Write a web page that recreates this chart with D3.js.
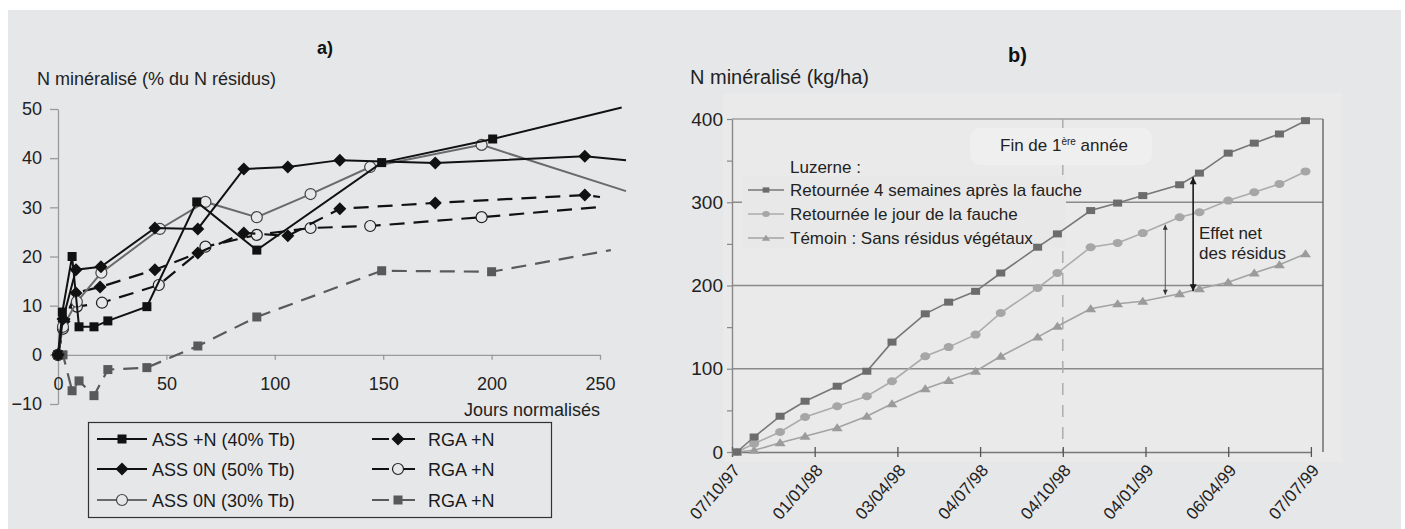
<!DOCTYPE html>
<html><head><meta charset="utf-8">
<script src="https://cdn.jsdelivr.net/npm/d3@7"></script>
<style>
body{margin:0;background:#fff}
text{font-family:Arial,"Liberation Sans",sans-serif}
</style>
</head><body>
<svg id="c" width="1405" height="529"></svg>
<script>
// ================= Panel a) data =================
const aXTicks = [0, 50, 100, 150, 200, 250];
const aYTicks = [-10, 0, 10, 20, 30, 40, 50];
const aLegend = ["ASS +N (40% Tb)", "ASS 0N (50% Tb)", "ASS 0N (30% Tb)", "RGA +N", "RGA +N", "RGA +N"];

const assN40_x = [0, 2, 6.5, 9.7, 16.6, 23, 41, 64, 91.7, 149.3, 200.5];
const assN40_y = [0, 8.7, 20, 5.7, 5.7, 6.9, 9.8, 31.1, 21.3, 39.1, 43.9];
const assN40_end = [260, 50.3];

const ass0N50_x = [0, 2.3, 8.3, 19.8, 44.7, 64.5, 85.7, 106, 130, 174, 243];
const ass0N50_y = [0, 7.3, 17.3, 17.9, 25.8, 25.6, 37.8, 38.2, 39.6, 39, 40.4];
const ass0N50_end = [262, 39.6];

const ass0N30_x = [0, 2.3, 8.7, 20, 47, 68, 91.7, 116.5, 144, 195.4];
const ass0N30_y = [0, 5.7, 10.8, 16.7, 25.6, 31.1, 28, 32.7, 38.2, 42.7];
const ass0N30_end = [262, 33.3];

const rgaDia_x = [0, 2.8, 8.3, 19.4, 44.7, 64.5, 85.7, 106, 130, 174, 243];
const rgaDia_y = [0, 6.8, 12.6, 13.8, 17.3, 20.7, 24.8, 24.2, 29.7, 30.9, 32.5];
const rgaDia_end = [250, 32.1];

const rgaCirc_x = [0, 2.3, 8.7, 20.3, 46.5, 68, 91.7, 116.5, 144, 195.4];
const rgaCirc_y = [0, 5.3, 9.8, 10.6, 14.2, 22, 24.4, 25.8, 26.2, 28];
const rgaCirc_end = [250.7, 30.1];

const rgaSq_x = [0, 2.3, 6.5, 9.7, 16.6, 23, 41, 64.5, 91.7, 149.3, 200];
const rgaSq_y = [0, 0, -7.3, -5.3, -8.3, -3.0, -2.6, 1.8, 7.7, 17.1, 16.9];
const rgaSq_end = [255, 21.3];

// ================= Panel b) data =================
const bTickDates = ["1997-10-07", "1998-01-01", "1998-04-03", "1998-07-04", "1998-10-04", "1999-01-04", "1999-04-06", "1999-07-07"];
const bTickLabels = ["07/10/97", "01/01/98", "03/04/98", "04/07/98", "04/10/98", "04/01/99", "06/04/99", "07/07/99"];
const bYTicks = [0, 50, 100, 150, 200, 250, 300, 350, 400];
const bDates = ["1997-10-12", "1997-10-30", "1997-11-26", "1997-12-22", "1998-01-26", "1998-02-28", "1998-03-28", "1998-05-04", "1998-05-30", "1998-06-29", "1998-07-27", "1998-09-06", "1998-09-28", "1998-11-04", "1998-12-04", "1999-01-01", "1999-02-11", "1999-03-05", "1999-04-06", "1999-05-05", "1999-06-02", "1999-07-01"];
const ret4sem = [0, 18, 43, 61, 79, 97, 132, 166, 180, 193, 215, 246, 262, 290, 299, 308, 321, 335, 359, 371, 382, 398];
const retJour = [0, 10, 24, 42, 55, 67, 85, 115, 126, 141, 167, 197, 215, 246, 251, 263, 282, 288, 302, 312, 322, 337];
const temoin = [0, 2, 11, 19, 29, 43, 58, 76, 86, 97, 115, 138, 151, 172, 178, 181, 190, 196, 204, 215, 225, 238];
const bLegend = ["Retournée 4 semaines après la fauche", "Retournée le jour de la fauche", "Témoin : Sans résidus végétaux"];
const finAnnee = "1998-10-04";
const arrowNet = {date: "1999-02-26", from: 330, to: 193};
const arrowJour = {date: "1999-01-26", from: 273, to: 189};

// ================= drawing =================
const BG = "#e6e7e9";
const svg = d3.select("#c");
svg.append("rect").attr("width", 1405).attr("height", 529).attr("fill", "#fff");
svg.append("rect").attr("x", 8).attr("y", 10).attr("width", 1393).attr("height", 519).attr("fill", BG);

const defs = svg.append("defs");
function arrowHead(id, color, w, h) {
  defs.append("marker").attr("id", id).attr("viewBox", "0 0 10 10").attr("refX", 10).attr("refY", 5)
    .attr("markerUnits", "userSpaceOnUse").attr("markerWidth", h).attr("markerHeight", w).attr("orient", "auto-start-reverse")
    .append("path").attr("d", "M0,0 L10,5 L0,10 z").attr("fill", color);
}
arrowHead("ahBlack", "#1a1a1a", 7, 9);
arrowHead("ahGrey", "#333", 5, 6);

// ---------- panel a ----------
const xa = d3.scaleLinear().domain([0, 250]).range([58, 600]);
const ya = d3.scaleLinear().domain([-10, 50]).range([404, 109]);
const gA = svg.append("g");

const yAxA = gA.append("g").attr("transform", "translate(58,0)")
  .call(d3.axisLeft(ya).tickValues(aYTicks).tickSize(8).tickPadding(8).tickSizeOuter(0));
const xAxA = gA.append("g").attr("transform", `translate(0,${ya(0)})`)
  .call(d3.axisBottom(xa).tickValues(aXTicks).tickSize(5).tickPadding(17).tickSizeOuter(0));
[yAxA, xAxA].forEach(ax => {
  ax.select(".domain").attr("stroke", "#9a9a9a").attr("stroke-width", 1.3);
  ax.selectAll(".tick line").attr("stroke", "#9a9a9a").attr("stroke-width", 1.3);
  ax.selectAll(".tick text").attr("fill", "#222").attr("font-size", 18).attr("font-family", "Arial, Liberation Sans, sans-serif");
});

gA.append("text").attr("x", 317).attr("y", 54).attr("font-size", 18).attr("font-weight", "bold").attr("fill", "#111").text("a)");
gA.append("text").attr("x", 37).attr("y", 85).attr("font-size", 18).attr("fill", "#222").text("N minéralisé (% du N résidus)");
gA.append("text").attr("x", 600).attr("y", 416).attr("font-size", 18).attr("text-anchor", "end").attr("fill", "#222").text("Jours normalisés");

const lineA = d3.line().x(d => xa(d[0])).y(d => ya(d[1]));

function drawMarker(g, shape, x, y, st) {
  if (shape === "square") {
    g.append("rect").attr("x", x - 4.5).attr("y", y - 4.5).attr("width", 9).attr("height", 9).attr("fill", st.fill);
  } else if (shape === "diamond") {
    g.append("path").attr("d", `M${x},${y - 6.5}L${x + 6.5},${y}L${x},${y + 6.5}L${x - 6.5},${y}Z`).attr("fill", st.fill);
  } else if (shape === "circle") {
    g.append("circle").attr("cx", x).attr("cy", y).attr("r", 5.5).attr("fill", BG).attr("stroke", st.mstroke).attr("stroke-width", 1.2);
  }
}

const seriesA = [
  {x: rgaSq_x, y: rgaSq_y, end: rgaSq_end, color: "#5a5a5a", dash: "15,9", shape: "square", fill: "#595959", w: 2.2},
  {x: rgaCirc_x, y: rgaCirc_y, end: rgaCirc_end, color: "#111", dash: "15,9", shape: "circle", mstroke: "#222", w: 2.2},
  {x: rgaDia_x, y: rgaDia_y, end: rgaDia_end, color: "#111", dash: "15,9", shape: "diamond", fill: "#111", w: 2.2},
  {x: ass0N30_x, y: ass0N30_y, end: ass0N30_end, color: "#6a6a6a", dash: null, shape: "circle", mstroke: "#444", w: 2},
  {x: ass0N50_x, y: ass0N50_y, end: ass0N50_end, color: "#111", dash: null, shape: "diamond", fill: "#111", w: 2},
  {x: assN40_x, y: assN40_y, end: assN40_end, color: "#111", dash: null, shape: "square", fill: "#111", w: 2}
];
seriesA.forEach(s => {
  const pts = s.x.map((x, i) => [x, s.y[i]]);
  gA.append("path").datum(pts.concat([s.end])).attr("d", lineA).attr("fill", "none")
    .attr("stroke", s.color).attr("stroke-width", s.w).attr("stroke-dasharray", s.dash);
  const mg = gA.append("g");
  pts.forEach(p => drawMarker(mg, s.shape, xa(p[0]), ya(p[1]), s));
});

// legend a
const legA = gA.append("g");
legA.append("rect").attr("x", 88.5).attr("y", 422.5).attr("width", 463).attr("height", 95).attr("fill", BG).attr("stroke", "#333").attr("stroke-width", 1.2);
const legRows = [439, 469, 500];
const legDefs = [
  {col: 0, row: 0, s: seriesA[5]}, {col: 0, row: 1, s: seriesA[4]}, {col: 0, row: 2, s: seriesA[3]},
  {col: 1, row: 0, s: seriesA[2]}, {col: 1, row: 1, s: seriesA[1]}, {col: 1, row: 2, s: seriesA[0]}
];
legDefs.forEach((d, i) => {
  const y = legRows[d.row];
  const x0 = d.col === 0 ? 97 : 372, x1 = d.col === 0 ? 147 : 415, xm = d.col === 0 ? 122 : 398, xt = d.col === 0 ? 152 : 428;
  legA.append("line").attr("x1", x0).attr("x2", x1).attr("y1", y).attr("y2", y)
    .attr("stroke", d.s.color).attr("stroke-width", d.s.w).attr("stroke-dasharray", d.col === 1 ? "17,9" : null);
  drawMarker(legA, d.s.shape, xm, y, d.s);
  legA.append("text").attr("x", xt).attr("y", y + 6.5).attr("font-size", 18).attr("fill", "#1a1a1a").text(aLegend[i]);
});

// ---------- panel b ----------
const parse = d3.timeParse("%Y-%m-%d");
const tickD = bTickDates.map(parse);
const xb = d3.scaleTime().domain(tickD).range(tickD.map((d, i) => 732 + i * 82.7));
const yb = d3.scaleLinear().domain([0, 400]).range([452, 119]);
const gB = svg.append("g");
const xRight = 1323;

gB.append("rect").attr("x", 723).attr("y", 93).attr("width", 619).attr("height", 369).attr("fill", "#eaeaea");

gB.append("text").attr("x", 1008).attr("y", 62).attr("font-size", 20).attr("font-weight", "bold").attr("fill", "#111").text("b)");
gB.append("text").attr("x", 690).attr("y", 84).attr("font-size", 20).attr("fill", "#222").text("N minéralisé (kg/ha)");

// gridlines
gB.append("g").selectAll("line").data([100, 200, 300, 400]).join("line")
  .attr("x1", xb(tickD[0])).attr("x2", xRight).attr("y1", d => yb(d)).attr("y2", d => yb(d))
  .attr("stroke", d => d === 400 ? "#a0a0a0" : "#8a8a8a").attr("stroke-width", 1.4);
// right frame
gB.append("line").attr("x1", xRight).attr("x2", xRight).attr("y1", yb(400)).attr("y2", yb(0)).attr("stroke", "#666").attr("stroke-width", 1.4);
// end of first year dashed line
gB.append("line").attr("x1", xb(parse(finAnnee))).attr("x2", xb(parse(finAnnee))).attr("y1", yb(400)).attr("y2", yb(0))
  .attr("stroke", "#a8a8a8").attr("stroke-width", 1.4).attr("stroke-dasharray", "12,10");

// y axis
const yAxB = gB.append("g").attr("transform", `translate(${xb(tickD[0])},0)`)
  .call(d3.axisLeft(yb).tickValues(bYTicks).tickSize(5).tickPadding(4).tickSizeOuter(0)
    .tickFormat(d => d % 100 === 0 ? d : ""));
yAxB.select(".domain").attr("stroke", "#888").attr("stroke-width", 1.4);
yAxB.selectAll(".tick line").attr("stroke", "#888").attr("stroke-width", 1.2);
yAxB.selectAll(".tick text").attr("fill", "#222").attr("font-size", 19).attr("font-family", "Arial, Liberation Sans, sans-serif");

// x axis
const xAxB = gB.append("g").attr("transform", `translate(0,${yb(0)})`)
  .call(d3.axisBottom(xb).tickValues(tickD).tickSize(5).tickSizeOuter(0).tickFormat((d, i) => bTickLabels[i]));
xAxB.select(".domain").attr("stroke", "#777").attr("stroke-width", 1.5);
xAxB.selectAll(".tick line").attr("y1", -5).attr("stroke", "#555").attr("stroke-width", 1.3);
xAxB.selectAll(".tick text").attr("fill", "#222").attr("font-size", 17).attr("font-family", "Arial, Liberation Sans, sans-serif")
  .attr("text-anchor", "end").attr("dy", "0.35em").attr("y", 0)
  .attr("transform", "translate(4,15) rotate(-49)");

// Fin de 1ère année box
gB.append("rect").attr("x", 970).attr("y", 128).attr("width", 182).attr("height", 37).attr("rx", 10).attr("fill", "#efefef");
const fin = gB.append("text").attr("x", 1000).attr("y", 151).attr("font-size", 17).attr("fill", "#222");
fin.append("tspan").text("Fin de 1");
fin.append("tspan").attr("font-size", 10).attr("dy", -6).text("ère");
fin.append("tspan").attr("dy", 6).text(" année");

// legend background
gB.append("rect").attr("x", 742).attr("y", 176).attr("width", 324).attr("height", 72).attr("fill", "#e8e8e8");

const lineB = d3.line().x(d => xb(d[0])).y(d => yb(d[1]));
const bDateP = bDates.map(parse);
const seriesB = [
  {v: temoin, color: "#a3a3a3", mark: "#9b9b9b", shape: "tri"},
  {v: retJour, color: "#acacac", mark: "#a6a6a6", shape: "circ"},
  {v: ret4sem, color: "#777", mark: "#6c6c6c", shape: "sq"}
];
function markB(g, shape, x, y, c, k) {
  k = k || 1;
  if (shape === "sq") g.append("rect").attr("x", x - 4.5 * k).attr("y", y - 3.5 * k).attr("width", 9 * k).attr("height", 7 * k).attr("fill", c);
  else if (shape === "circ") g.append("ellipse").attr("cx", x).attr("cy", y).attr("rx", 5 * k).attr("ry", 4 * k).attr("fill", c);
  else g.append("path").attr("d", `M${x},${y - 4.5 * k}L${x + 5.5 * k},${y + 3.5 * k}L${x - 5.5 * k},${y + 3.5 * k}Z`).attr("fill", c);
}
seriesB.forEach(s => {
  const pts = bDateP.map((d, i) => [d, s.v[i]]);
  gB.append("path").datum(pts).attr("d", lineB).attr("fill", "none").attr("stroke", s.color).attr("stroke-width", 1.6);
  const mg = gB.append("g");
  pts.forEach(p => markB(mg, s.shape, xb(p[0]), yb(p[1]), s.mark));
});

// legend b
gB.append("text").attr("x", 790).attr("y", 173).attr("font-size", 17).attr("fill", "#222").text("Luzerne :");
const legB = [{s: seriesB[2], y: 190}, {s: seriesB[1], y: 214}, {s: seriesB[0], y: 238}];
legB.forEach((d, i) => {
  gB.append("line").attr("x1", 748).attr("x2", 784).attr("y1", d.y).attr("y2", d.y).attr("stroke", d.s.color).attr("stroke-width", 1.6);
  markB(gB, d.s.shape, 766, d.y, d.s.mark, 0.75);
  gB.append("text").attr("x", 790).attr("y", d.y + 6).attr("font-size", 17).attr("fill", "#222").text(bLegend[i]);
});

// arrows
gB.append("line").attr("x1", xb(parse(arrowNet.date))).attr("x2", xb(parse(arrowNet.date)))
  .attr("y1", yb(arrowNet.from)).attr("y2", yb(arrowNet.to)).attr("stroke", "#1a1a1a").attr("stroke-width", 1.6)
  .attr("marker-start", "url(#ahBlack)").attr("marker-end", "url(#ahBlack)");
gB.append("line").attr("x1", xb(parse(arrowJour.date))).attr("x2", xb(parse(arrowJour.date)))
  .attr("y1", yb(arrowJour.from)).attr("y2", yb(arrowJour.to)).attr("stroke", "#555").attr("stroke-width", 1)
  .attr("marker-start", "url(#ahGrey)").attr("marker-end", "url(#ahGrey)");
gB.append("text").attr("x", 1199).attr("y", 239).attr("font-size", 17).attr("fill", "#222").text("Effet net");
gB.append("text").attr("x", 1199).attr("y", 259).attr("font-size", 17).attr("fill", "#222").text("des résidus");
</script>
</body></html>
